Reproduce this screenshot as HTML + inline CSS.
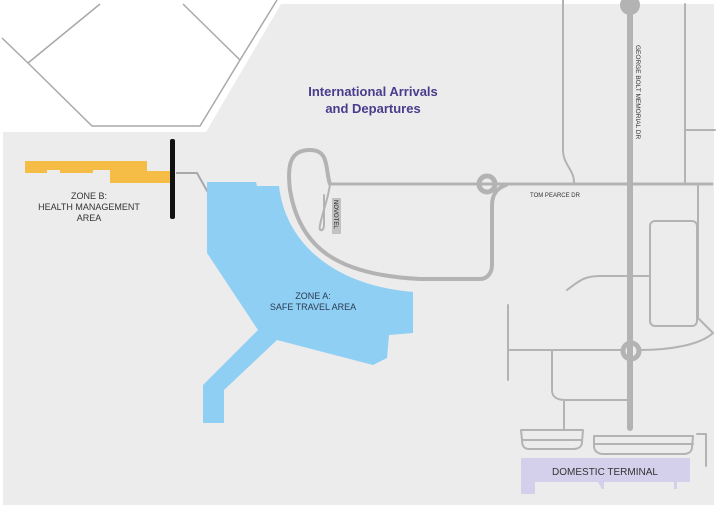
<!DOCTYPE html>
<html><head><meta charset="utf-8"><style>
html,body{margin:0;padding:0;background:#fff;width:720px;height:514px;overflow:hidden}
svg{display:block}
text{font-family:"Liberation Sans",sans-serif}
</style></head><body>
<svg width="720" height="514" viewBox="0 0 720 514" xmlns="http://www.w3.org/2000/svg">
<rect width="720" height="514" fill="#fff"/>
<!-- grey land -->
<polygon points="3,132 206,132 281,4 714,4 714,505 3,505" fill="#ececec"/>
<!-- hexagon lines -->
<g fill="none" stroke="#a9a9a9" stroke-width="1.5">
<polyline points="2,38 28,63 92,126 200,126 240,60 277,0"/>
<polyline points="100,4 28,63"/>
<polyline points="183,4 240,60"/>
</g>
<!-- zone B road -->
<polyline points="176,173 197,173 210,196" fill="none" stroke="#a9a9a9" stroke-width="2"/>
<!-- yellow zone B -->
<polygon points="25,161 147,161 147,171 172,171 172,183 110,183 110,170 93,170 93,173 60,173 60,170 47,170 47,173 25,173" fill="#f5bd45"/>
<rect x="170" y="139" width="5" height="80" rx="2" fill="#111"/>
<!-- blue zone A -->
<path d="M207,182 L256,182 L257,186 L279,186 C285,240 330,285 413,292 L413,333 L389,335 L387,358 L373,365 L277,340 L224,390 L224,423 L203,423 L203,385 L258,330 L207,253 Z" fill="#8fcff3"/>
<!-- roads -->
<g fill="none" stroke="#b3b3b3" stroke-linecap="round" stroke-linejoin="round">
<path d="M330,184 C325,170 330,150 310,150 C290,150 287,165 290,190 C300,250 340,275 420,279 L480,279 C488,279 492,272 492,265 L492,205 C492,195 497,188 506,185" stroke-width="4"/>
<path d="M330,184 L712,184" stroke-width="3"/>
<path d="M330,184 C328,200 323,210 320,225 C318,232 324,232 324,225 L324,195" stroke-width="2"/>
<path d="M630,4 L630,428" stroke-width="6"/>
<path d="M563,0 L563,150 C563,165 575,170 574,184" stroke-width="2"/>
<path d="M685,4 L685,182 M685,130 L715,130" stroke-width="2"/>
<rect x="650" y="221" width="47" height="105" rx="5" stroke-width="2"/>
<path d="M698,186 L698,318 L713,333 C700,345 670,350 640,350" stroke-width="2"/>
<path d="M567,290 C580,280 585,276 600,276 L649,276" stroke-width="2"/>
<path d="M509,350 L622,350 M508,305 L508,380" stroke-width="2"/>
<path d="M552,350 L552,390 C552,398 558,400 566,400 L628,400 M564,400 L564,430" stroke-width="2"/>
<path d="M521,430 L583,430 L582,442 C582,447 578,449 573,449 L529,449 C524,449 522,446 522,440 Z M522,440 L582,440" stroke-width="2"/>
<path d="M594,436 L693,436 L692,447 C692,452 688,454 683,454 L603,454 C598,454 594,451 594,446 Z M594,444 L693,444 M697,434 L706,434 L706,466" stroke-width="2"/>
</g>
<circle cx="630" cy="5" r="10" fill="#b3b3b3"/>
<circle cx="487" cy="184" r="8" fill="none" stroke="#b3b3b3" stroke-width="5"/>
<circle cx="631" cy="351" r="8" fill="none" stroke="#b3b3b3" stroke-width="5"/>
<!-- domestic terminal -->
<path d="M521,458 L690,458 L690,482 L677,482 L677,489 L674,489 L674,482 L604,482 L604,489 L602,489 L598,482 L535,482 L535,494 L521,494 Z" fill="#d4d0ec"/>
<text x="605" y="475" font-size="10" fill="#333" text-anchor="middle">DOMESTIC TERMINAL</text>
<text x="373" y="96" font-size="13" fill="#4a3c8c" text-anchor="middle" font-weight="bold">International Arrivals</text>
<text x="373" y="113" font-size="13" fill="#4a3c8c" text-anchor="middle" font-weight="bold">and Departures</text>
<text x="555" y="197" font-size="6" fill="#333" text-anchor="middle">TOM PEARCE DR</text>
<text transform="translate(636,45) rotate(90)" font-size="6.5" fill="#333">GEORGE BOLT MEMORIAL DR</text>
<rect x="332" y="198" width="9" height="36" fill="#c2c2c2"/>
<text transform="translate(334,200) rotate(90)" font-size="6" fill="#222">NOVOTEL</text>
<text x="89" y="199" font-size="9" fill="#333" text-anchor="middle">ZONE B:</text>
<text x="89" y="210" font-size="9" fill="#333" text-anchor="middle">HEALTH MANAGEMENT</text>
<text x="89" y="221" font-size="9" fill="#333" text-anchor="middle">AREA</text>
<text x="313" y="299" font-size="9" fill="#2a3a50" text-anchor="middle">ZONE A:</text>
<text x="313" y="310" font-size="9" fill="#2a3a50" text-anchor="middle">SAFE TRAVEL AREA</text>
</svg>
</body></html>
